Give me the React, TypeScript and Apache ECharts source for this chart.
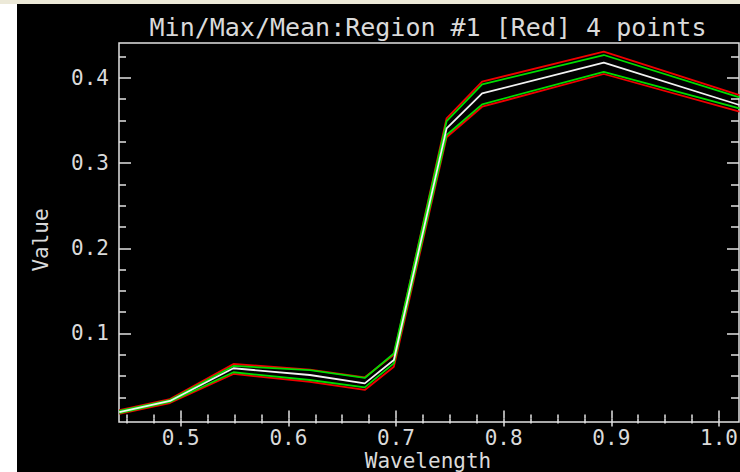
import { useEffect, useRef } from "react";
import * as echarts from "echarts";

// Spectral samples (micrometres) and reflectance envelopes for the region
const wavelength = [0.443, 0.49, 0.549, 0.62, 0.671, 0.698, 0.747, 0.78, 0.893, 1.019];
const maxRed = [0.01, 0.023, 0.0641, 0.0576, 0.0485, 0.075, 0.3526, 0.3956, 0.4308, 0.3799];
const maxGreen = [0.009, 0.0218, 0.0618, 0.057, 0.0477, 0.0765, 0.3494, 0.3925, 0.4269, 0.3772];
const meanValues = [0.0077, 0.0207, 0.0591, 0.0512, 0.0414, 0.0688, 0.3408, 0.3819, 0.4179, 0.3682];
const minGreen = [0.0065, 0.0195, 0.0544, 0.0453, 0.0367, 0.0649, 0.333, 0.369, 0.407, 0.3643];
const minRed = [0.0055, 0.0183, 0.0524, 0.043, 0.0336, 0.0609, 0.3303, 0.3662, 0.4046, 0.3603];

// Tick positions
const xMajorTicks = [0.5, 0.6, 0.7, 0.8, 0.9, 1.0];
const xMinorTicks = [
  0.45, 0.475, 0.525, 0.55, 0.575, 0.625, 0.65, 0.675, 0.725, 0.75, 0.775, 0.825, 0.85, 0.875,
  0.925, 0.95, 0.975,
];
const yMajorTicks = [0.1, 0.2, 0.3, 0.4];
const yMinorTicks = [
  0.025, 0.05, 0.075, 0.125, 0.15, 0.175, 0.225, 0.25, 0.275, 0.325, 0.35, 0.375, 0.425,
];

const X_MIN = 0.4427;
const X_MAX = 1.0186;
const Y_MIN = -0.004;
const Y_MAX = 0.441;

const FG = "#e2e2e2";
const TEXT = "#dadada";
const FONT = "'DejaVu Sans Mono', 'Liberation Mono', monospace";
const RED = "#f00000";
const GREEN = "#00dc00";

function xAxis(position: string, ticks: number[], length: number, labels: boolean) {
  return {
    type: "value",
    gridIndex: 0,
    position,
    min: X_MIN,
    max: X_MAX,
    axisLine: { show: false },
    splitLine: { show: false },
    axisTick: {
      show: true,
      inside: true,
      length,
      customValues: ticks,
      lineStyle: { color: FG, width: 1.5 },
    },
    axisLabel: labels
      ? {
          show: true,
          customValues: ticks,
          formatter: (v: number) => v.toFixed(1),
          color: TEXT,
          fontFamily: FONT,
          fontSize: 21,
          margin: 5,
        }
      : { show: false },
  };
}

function yAxis(position: string, ticks: number[], length: number, labels: boolean) {
  return {
    type: "value",
    gridIndex: 0,
    position,
    min: Y_MIN,
    max: Y_MAX,
    axisLine: { show: false },
    splitLine: { show: false },
    axisTick: {
      show: true,
      inside: true,
      length,
      customValues: ticks,
      lineStyle: { color: FG, width: 1.5 },
    },
    axisLabel: labels
      ? {
          show: true,
          customValues: ticks,
          formatter: (v: number) => v.toFixed(1),
          color: TEXT,
          fontFamily: FONT,
          fontSize: 21,
          margin: 10,
        }
      : { show: false },
  };
}

function line(values: number[], color: string, z: number) {
  return {
    type: "line",
    xAxisIndex: 0,
    yAxisIndex: 0,
    data: wavelength.map((w, i) => [w, values[i]]),
    symbol: "none",
    silent: true,
    z,
    lineStyle: { color, width: 1.8 },
  };
}

export default function App() {
  const ref = useRef<HTMLDivElement>(null);

  useEffect(() => {
    if (!ref.current) return;
    const chart = echarts.init(ref.current, undefined, { renderer: "svg" });
    chart.setOption({
      animation: false,
      backgroundColor: "transparent",
      grid: {
        left: 119,
        top: 43,
        right: 1,
        bottom: 50,
        show: true,
        borderColor: FG,
        borderWidth: 1.5,
        backgroundColor: "transparent",
        outerBoundsMode: "none",
      },
      xAxis: [
        xAxis("bottom", xMajorTicks, 8, true),
        xAxis("bottom", xMinorTicks, 4, false),
        xAxis("top", xMajorTicks, 8, false),
        xAxis("top", xMinorTicks, 5, false),
      ],
      yAxis: [
        yAxis("left", yMajorTicks, 12, true),
        yAxis("left", yMinorTicks, 7, false),
        yAxis("right", yMajorTicks, 12, false),
        yAxis("right", yMinorTicks, 8, false),
      ],
      graphic: [
        {
          type: "text",
          x: 428,
          y: 27,
          silent: true,
          style: {
            text: "Min/Max/Mean:Region #1 [Red] 4 points",
            fill: TEXT,
            fontFamily: FONT,
            fontSize: 25,
            align: "center",
            verticalAlign: "middle",
          },
        },
        {
          type: "text",
          x: 41,
          y: 240,
          rotation: Math.PI / 2,
          silent: true,
          style: {
            text: "Value",
            fill: TEXT,
            fontFamily: FONT,
            fontSize: 21,
            align: "center",
            verticalAlign: "middle",
          },
        },
        {
          type: "text",
          x: 428,
          y: 471,
          silent: true,
          style: {
            text: "Wavelength",
            fill: TEXT,
            fontFamily: FONT,
            fontSize: 21,
            align: "center",
            verticalAlign: "bottom",
          },
        },
      ],
      series: [
        line(maxRed, RED, 2),
        line(minRed, RED, 2),
        line(maxGreen, GREEN, 3),
        line(minGreen, GREEN, 3),
        line(meanValues, "#f2f2f2", 4),
      ],
    });
    return () => chart.dispose();
  }, []);

  return (
    <div style={{ position: "fixed", left: 0, top: 0, width: 740, height: 472, background: "#ffffff" }}>
      <div style={{ position: "absolute", left: 0, top: 0, width: 740, height: 4, background: "#ece9d8" }} />
      <div style={{ position: "absolute", left: 17, top: 4, width: 723, height: 468, background: "#000000" }} />
      <div ref={ref} style={{ position: "absolute", left: 0, top: 0, width: 740, height: 472 }} />
    </div>
  );
}
